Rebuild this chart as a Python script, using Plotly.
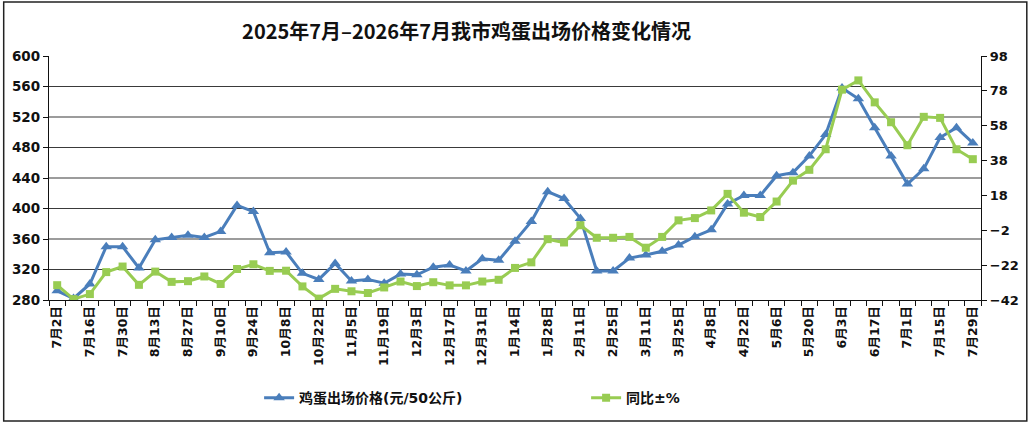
import plotly.graph_objects as go

dates = ["7月2日", "7月9日", "7月16日", "7月23日", "7月30日", "8月6日", "8月13日", "8月20日", "8月27日",
         "9月3日", "9月10日", "9月17日", "9月24日", "10月1日", "10月8日", "10月15日", "10月22日", "10月29日",
         "11月5日", "11月12日", "11月19日", "11月26日", "12月3日", "12月10日", "12月17日", "12月24日", "12月31日",
         "1月7日", "1月14日", "1月21日", "1月28日", "2月4日", "2月11日", "2月18日", "2月25日",
         "3月4日", "3月11日", "3月18日", "3月25日", "4月1日", "4月8日", "4月15日", "4月22日", "4月29日",
         "5月6日", "5月13日", "5月20日", "5月27日", "6月3日", "6月10日", "6月17日", "6月24日",
         "7月1日", "7月8日", "7月15日", "7月22日", "7月29日"]

price = [292, 282, 301, 350, 350, 322, 359, 362, 365, 362, 370, 404, 396, 342, 343, 315, 307, 328,
         305, 307, 302, 314, 313, 323, 326, 318, 334, 332, 357, 383, 422, 413, 387, 318, 318,
         335, 339, 344, 352, 363, 372, 406, 417, 417, 443, 447, 469, 497, 558, 544, 506, 469,
         432, 452, 493, 506, 486]

yoy = [-33.5, -41.5, -38.6, -26, -22.8, -33.3, -25.7, -31.6, -31.2, -28.5, -32.8, -24.2, -21.5, -25.3,
       -25.2, -34.2, -41.2, -35.6, -37, -38, -34.8, -31.4, -34, -31.8, -33.6, -33.6, -31.4, -30.4,
       -23.6, -20.4, -7.1, -9, 0.9, -6.3, -6.3, -5.8, -12, -5.8, 3.7, 5, 9.4, 18.9, 8.1, 5.6,
       14.5, 26.5, 32.7, 44.5, 78.7, 84, 71.4, 60, 46.8, 63.1, 62.5, 44.5, 38.8]

left_ticks = [280, 320, 360, 400, 440, 480, 520, 560, 600]
right_ticks = [-42, -22, -2, 18, 38, 58, 78, 98]

name_price = "鸡蛋出场价格(元/50公斤)"
name_yoy = "同比±%"
title_text = "2025年7月–2026年7月我市鸡蛋出场价格变化情况"

BLUE = "#4A7EBB"
GREEN = "#98CC52"
FONT = "DejaVu Sans, Noto Sans CJK SC, sans-serif"

xs = list(range(len(dates)))
label_idx = xs[::2]

fig = go.Figure()
fig.add_trace(go.Scatter(
    x=xs, y=price, name=name_price, mode="lines+markers",
    line=dict(color=BLUE, width=3),
    marker=dict(symbol="triangle-up", size=10, color=BLUE),
    yaxis="y"))
fig.add_trace(go.Scatter(
    x=xs, y=yoy, name=name_yoy, mode="lines+markers",
    line=dict(color=GREEN, width=3),
    marker=dict(symbol="square", size=8, color=GREEN),
    yaxis="y2"))

W, H = 1031, 426
ml, mr, mt, mb = 47, 48, 56, 124
pw, ph = W - ml - mr, H - mt - mb

shapes = []
for v in left_ticks[1:-1]:
    shapes.append(dict(type="line", xref="paper", yref="y", x0=0, x1=1, y0=v, y1=v,
                       line=dict(color="#3a3a3a", width=1.2), layer="below"))
# outer frame
shapes.append(dict(type="rect", xref="paper", yref="paper",
                   x0=(1.5 - ml) / pw, x1=(W - 2 - ml) / pw,
                   y0=(H - mb - (H - 2)) / ph, y1=(H - mb - 1.5) / ph,
                   line=dict(color="#222", width=1.5), fillcolor="rgba(0,0,0,0)"))

fig.update_layout(
    width=W, height=H,
    margin=dict(l=ml, r=mr, t=mt, b=mb),
    paper_bgcolor="white", plot_bgcolor="white",
    title=dict(text=title_text, x=0.4525, xanchor="center", xref="container",
               y=1 - 32 / H, yanchor="middle", yref="container",
               font=dict(family="Noto Sans CJK SC", size=20, color="#111", weight="bold")),
    xaxis=dict(
        range=[-0.5, len(dates) - 0.5], showgrid=False, zeroline=False,
        showline=True, linecolor="#111", linewidth=1.3,
        tickmode="array", tickvals=label_idx, ticktext=[dates[i] for i in label_idx],
        ticks="", tickangle=-90,
        tickfont=dict(family=FONT, size=12.5, color="#111", weight="bold"),
        minor=dict(tickmode="linear", tick0=-0.5, dtick=1, ticks="outside", ticklen=5,
                   tickcolor="#111", tickwidth=1.2, showgrid=False),
    ),
    yaxis=dict(
        range=[280, 600], tickmode="array", tickvals=left_ticks,
        showgrid=False, zeroline=False, showline=True, linecolor="#111", linewidth=1.3,
        ticks="outside", ticklen=5, tickcolor="#111", tickwidth=1.2,
        tickfont=dict(family=FONT, size=13.5, color="#111", weight="bold"),
    ),
    yaxis2=dict(
        range=[-42, 98], tickmode="array", tickvals=right_ticks, overlaying="y", side="right",
        showgrid=False, zeroline=False, showline=True, linecolor="#111", linewidth=1.3,
        ticks="outside", ticklen=5, tickcolor="#111", tickwidth=1.2,
        tickfont=dict(family=FONT, size=13, color="#111", weight="bold"),
    ),
    legend=dict(orientation="h", x=(258 - ml) / pw, xanchor="left",
                y=(H - mb - 401) / ph, yanchor="middle",
                entrywidthmode="pixels", entrywidth=282,
                font=dict(family=FONT, size=14, color="#111", weight="bold"),
                bgcolor="rgba(0,0,0,0)"),
    shapes=shapes,
)

fig.write_html("out.html", config={"displayModeBar": False},
               post_script="document.body.style.margin='0';document.body.style.overflow='hidden';")
